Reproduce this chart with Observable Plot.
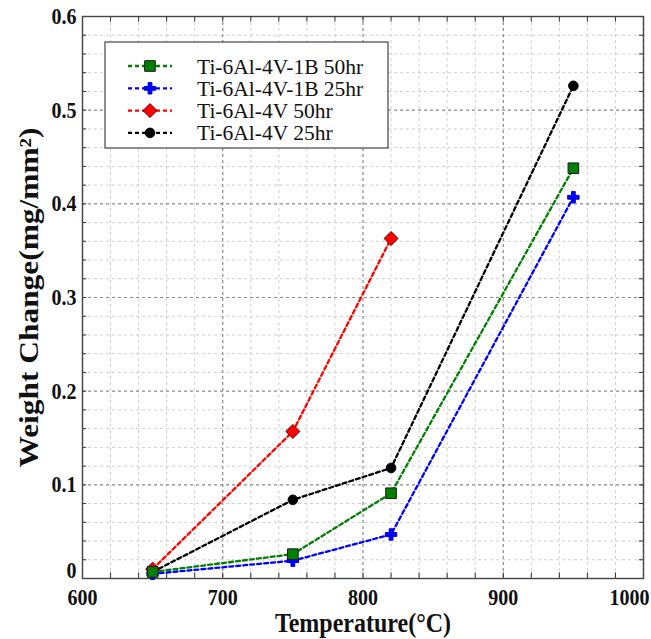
<!DOCTYPE html>
<html><head><meta charset="utf-8">
<script src="https://cdn.jsdelivr.net/npm/d3@7"></script>
<script src="https://cdn.jsdelivr.net/npm/@observablehq/plot@0.6"></script>
<style>body{margin:0;background:#fff}</style>
</head><body><div id="chart"></div>
<script>
// ---- data ----
const temps = [650, 750, 820, 950];
const tempsV50 = [650, 750, 820];
const seriesNames = ["Ti-6Al-4V-1B 50hr", "Ti-6Al-4V-1B 25hr", "Ti-6Al-4V 50hr", "Ti-6Al-4V 25hr"];
const b1_50 = [0.007, 0.026, 0.091, 0.438];
const b1_25 = [0.005, 0.019, 0.047, 0.407];
const v_50 = [0.010, 0.157, 0.363];
const v_25 = [0.007, 0.084, 0.118, 0.526];
const xTicks = [600, 700, 800, 900, 1000];
const yTicks = [0, 0.1, 0.2, 0.3, 0.4, 0.5, 0.6];
const xTitle = "Temperature(°C)";
const yTitle = "Weight Change(mg/mm²)";

// ---- styles ----
const FONT = "'Liberation Serif', 'Times New Roman', serif";
const colors = ["#008000", "#0000ff", "#ff0000", "#000000"];
const symbols = ["square", "cross", "diamond2", "circle"];
const radii = [6, 4.8, 6.3, 4.8];
const strokes = ["#1a1a1a", "#0000cc", "#5a0000", "#000000"];

const seriesX = [temps, temps, tempsV50, temps];
const seriesY = [b1_50, b1_25, v_50, v_25];
const tables = seriesY.map((ys, s) => ys.map((y, i) => ({x: seriesX[s][i], y, s: seriesNames[s]})));

const xAll = d3.range(600, 1001, 20);
const yAll = d3.range(0, 31).map(i => +(i * 0.02).toFixed(2));
const xMinor = xAll.filter(v => v % 100 !== 0);
const yMinor = yAll.filter((v, i) => i % 5 !== 0);

const order = [2, 3, 1, 0];
const tickFont = {fontSize: 20, fontWeight: "bold", tickSize: 0, tickFormat: d => String(d), label: null, fill: "#111"};

const chart = Plot.plot({
  width: 651, height: 639,
  marginLeft: 82, marginRight: 8, marginTop: 16, marginBottom: 61,
  style: {fontFamily: FONT, background: "#fff", overflow: "visible"},
  x: {domain: [600, 1000], axis: null},
  y: {domain: [0, 0.6], axis: null},
  marks: [
    Plot.ruleX(xMinor, {stroke: "#cfcfcf", strokeDasharray: "3,3", strokeWidth: 1}),
    Plot.ruleY(yMinor, {stroke: "#cfcfcf", strokeDasharray: "3,3", strokeWidth: 1}),
    Plot.ruleX(xTicks, {stroke: "#8a8a8a", strokeDasharray: "3,3", strokeWidth: 1.2}),
    Plot.ruleY(yTicks, {stroke: "#8a8a8a", strokeDasharray: "3,3", strokeWidth: 1.2}),
    Plot.ruleX(xAll, {y1: 0, y2: 0.006, stroke: "#333"}),
    Plot.ruleX(xAll, {y1: 0.6, y2: 0.594, stroke: "#333"}),
    Plot.ruleY(yAll, {x1: 600, x2: 603, stroke: "#333"}),
    Plot.ruleY(yAll, {x1: 1000, x2: 997, stroke: "#333"}),
    Plot.frame({stroke: "#444", strokeWidth: 1.4}),
    ...order.map(s => Plot.line(tables[s], {x: "x", y: "y", stroke: colors[s], strokeWidth: 2.3, strokeDasharray: "4,3"})),
    ...order.map(s => Plot.dot(tables[s], {x: "x", y: "y", symbol: symbols[s], r: radii[s], fill: colors[s], stroke: strokes[s], strokeWidth: 1})),
    Plot.axisX(xTicks.slice(0, -1), {...tickFont, tickPadding: 10}),
    Plot.axisX(xTicks.slice(-1), {...tickFont, tickPadding: 10, textAnchor: "end", dx: 6}),
    Plot.axisY(yTicks.slice(1), {...tickFont, tickPadding: 6}),
    Plot.axisY(yTicks.slice(0, 1), {...tickFont, tickPadding: 6, dy: -8}),
    Plot.text([xTitle], {frameAnchor: "bottom", lineAnchor: "middle", dy: 45, fontSize: 24, fontWeight: "bold", fill: "#111", textAnchor: "middle"}),
    Plot.text([yTitle], {frameAnchor: "left", dx: -53, rotate: -90, fontSize: 27, fontWeight: "bold", fill: "#111", textAnchor: "middle"})
  ]
});
document.getElementById("chart").appendChild(chart);

// stretch texts like the reference image (selected by their content)
const svg = d3.select(chart);
const tickStrings = new Set([...xTicks, ...yTicks].map(String).concat([xTitle]));
svg.selectAll("text").filter(function() { return tickStrings.has(this.textContent); }).each(function() {
  const t = d3.select(this);
  t.attr("transform", (t.attr("transform") || "") + " scale(1,1.15)");
});
svg.selectAll("text").filter(function() { return this.textContent === yTitle; })
  .attr("textLength", 340).attr("lengthAdjust", "spacingAndGlyphs");

// ---- legend ----
const lg = svg.append("g").attr("transform", "translate(105,42)");
lg.append("rect").attr("width", 283).attr("height", 106).attr("fill", "#fff").attr("stroke", "#444").attr("stroke-width", 1.2);
const symMap = {square: d3.symbolSquare, cross: d3.symbolCross, diamond2: d3.symbolDiamond2, circle: d3.symbolCircle};
seriesNames.forEach((name, s) => {
  const g = lg.append("g").attr("transform", `translate(0,${24 + s * 22.3})`);
  g.append("line").attr("x1", 23).attr("x2", 67).attr("stroke", colors[s]).attr("stroke-width", 2.3).attr("stroke-dasharray", "4,3");
  g.append("path").attr("transform", "translate(45,0)")
    .attr("d", d3.symbol(symMap[symbols[s]], Math.PI * radii[s] * radii[s])())
    .attr("fill", colors[s]).attr("stroke", strokes[s]);
  g.append("text").attr("x", 92).attr("dy", "0.35em").attr("text-anchor", "start")
    .style("font-family", FONT).style("font-weight", "normal")
    .attr("font-size", 21.5).attr("fill", "#111").text(name);
});
</script></body></html>
